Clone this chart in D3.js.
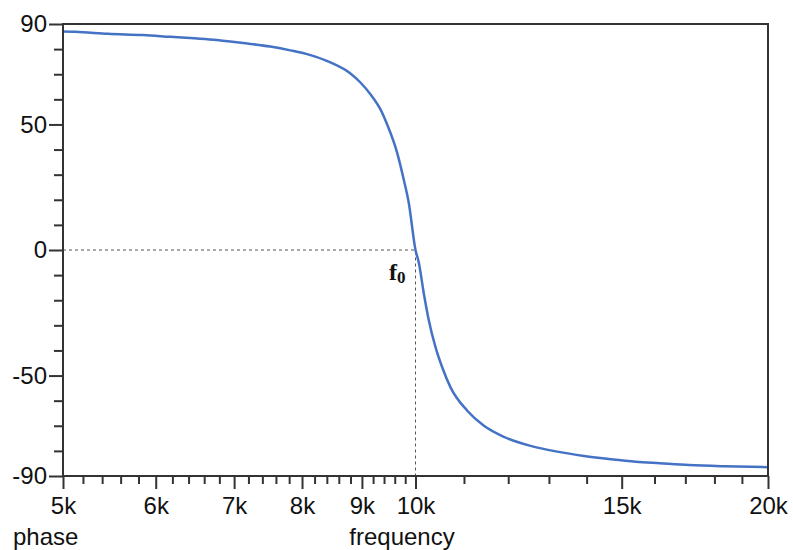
<!DOCTYPE html>
<html>
<head>
<meta charset="utf-8">
<script src="https://cdn.jsdelivr.net/npm/d3@7"></script>
<style>
  body { margin: 0; background: #fff; }
  svg { display: block; font-family: "Liberation Sans", Arial, sans-serif; }
  .axis path.domain { display: none; }
  .axis line { stroke: #333; stroke-width: 2; }
  .axis text { font-size: 24px; fill: #111; }
</style>
</head>
<body>
<div id="chart"></div>
<script>
// Phase curve (Hz, degrees)
const freqs  = [5000, 5120, 5463, 5853, 6174, 6472, 6719, 6947, 7156, 7516, 7819, 8133, 8459, 8799, 8974,
                9152, 9334, 9458, 9646, 9772, 9869, 10000, 10065, 10164, 10265, 10401, 10539, 10713,
                11072, 11440, 11899, 12540, 13217, 13928, 14685, 15425, 16171, 17121, 18336, 20000];
const phases = [87.0, 86.9, 86.1, 85.6, 84.9, 84.3, 83.7, 83.0, 82.3, 81.0, 79.5, 77.6, 74.7, 70.3, 66.7,
                62.0, 56.0, 50.0, 38.7, 28.0, 18.7, 0, -5.0, -17.2, -28.0, -38.7, -46.7, -54.7,
                -64.0, -70.0, -74.4, -78.0, -80.3, -82.0, -83.3, -84.3, -84.9, -85.6, -86.1, -86.5];

// Tick values
const xMajor = [5000, 6000, 7000, 8000, 9000, 10000, 15000, 20000];
const xMinor = [5200, 5400, 5600, 5800, 6200, 6400, 6600, 6800, 7200, 7400, 7600, 7800,
                8200, 8400, 8600, 8800, 9200, 9400, 9600, 9800,
                11000, 12000, 13000, 14000, 16000, 17000, 18000, 19000];
const yMajor = [90, 50, 0, -50, -90];
const yMinor = [80, 70, 60, 40, 30, 20, 10, -10, -20, -30, -40, -60, -70, -80];

const f0 = 10000;

const width = 793, height = 550;
const margin = { top: 24, right: 25, bottom: 74, left: 63 };
const innerWidth = width - margin.left - margin.right;
const innerHeight = height - margin.top - margin.bottom;

const svg = d3.select("#chart").append("svg")
    .attr("width", width)
    .attr("height", height);

const g = svg.append("g").attr("transform", `translate(${margin.left},${margin.top})`);

const x = d3.scaleLog().domain([5000, 20000]).range([0, innerWidth]);
const y = d3.scaleLinear().domain([-90, 90]).range([innerHeight, 0]);

// Minor ticks
g.append("g").attr("class", "axis")
    .attr("transform", `translate(0,${innerHeight})`)
    .call(d3.axisBottom(x).tickValues(xMinor).tickSize(8).tickFormat(""));
g.append("g").attr("class", "axis")
    .call(d3.axisLeft(y).tickValues(yMinor).tickSize(9).tickFormat(""));

// Major ticks with labels
g.append("g").attr("class", "axis")
    .attr("transform", `translate(0,${innerHeight})`)
    .call(d3.axisBottom(x).tickValues(xMajor).tickSize(13).tickPadding(8)
        .tickFormat(d => (d / 1000) + "k"));
g.append("g").attr("class", "axis")
    .call(d3.axisLeft(y).tickValues(yMajor).tickSize(14).tickPadding(2)
        .tickFormat(d => d));

// Dashed guides to f0
g.append("path")
    .attr("d", `M0,${y(0)}H${x(f0)}V${innerHeight}`)
    .attr("fill", "none")
    .attr("stroke", "#555")
    .attr("stroke-width", 1)
    .attr("stroke-dasharray", "3,3");

// Curve
const line = d3.line()
    .x((d, i) => x(freqs[i]))
    .y(d => y(d))
    .curve(d3.curveMonotoneX);

g.append("path")
    .datum(phases)
    .attr("d", line)
    .attr("fill", "none")
    .attr("stroke", "#4472C4")
    .attr("stroke-width", 2.5);

// Frame
g.append("rect")
    .attr("width", innerWidth)
    .attr("height", innerHeight)
    .attr("fill", "none")
    .attr("stroke", "#333")
    .attr("stroke-width", 2);

// f0 label
const lbl = g.append("text")
    .attr("x", x(f0) - 10)
    .attr("y", y(0) + 30)
    .attr("text-anchor", "end")
    .attr("font-family", "'Liberation Serif', 'Times New Roman', serif")
    .attr("font-weight", "bold")
    .attr("font-size", "24px")
    .attr("fill", "#111");
lbl.append("tspan").text("f");
lbl.append("tspan").attr("font-size", "17px").attr("dy", 3).text("0");

// Axis titles
svg.append("text")
    .attr("x", 13)
    .attr("y", 545)
    .attr("font-size", "24px")
    .attr("fill", "#111")
    .text("phase");

svg.append("text")
    .attr("x", 402)
    .attr("y", 545)
    .attr("text-anchor", "middle")
    .attr("font-size", "24px")
    .attr("fill", "#111")
    .text("frequency");
</script>
</body>
</html>
